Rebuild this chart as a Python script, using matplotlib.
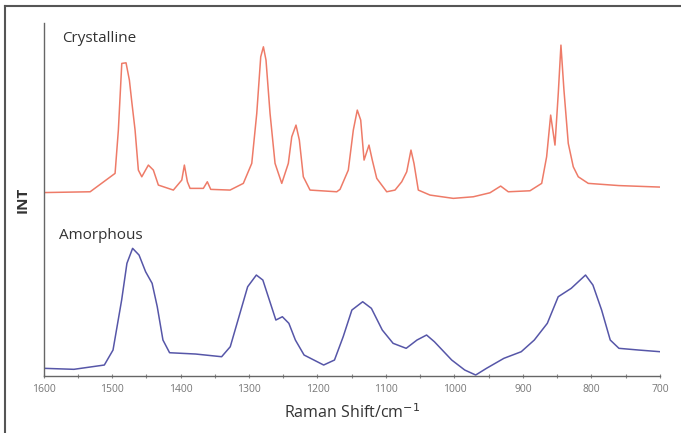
import numpy as np
import matplotlib.pyplot as plt
from matplotlib.lines import Line2D

# spectra (wavenumber cm-1, intensity in arbitrary units)
cryst_shift = [1600, 1532, 1495.6, 1490.8, 1485.8, 1479.6, 1474.7, 1471.2, 1466.4, 1461.6,
               1456.6, 1447, 1439.7, 1432.4, 1410.5, 1398.2, 1394.4, 1390, 1386.1, 1366.7,
               1360.9, 1355.9, 1327.7, 1308.3, 1296, 1288.7, 1282.9, 1279, 1275.2, 1269.3,
               1262, 1252.2, 1242.6, 1237.6, 1231.4, 1226.5, 1220.7, 1210.9, 1171.9, 1167.1,
               1155, 1147.7, 1141.9, 1136.9, 1132, 1124.8, 1120, 1113.5, 1098.9, 1086.8,
               1077, 1069.7, 1063.5, 1059.1, 1052.8, 1035.7, 1001.7, 972.5, 948.1, 932.5,
               921.4, 889.7, 872.6, 865.4, 859.5, 853.2, 848.4, 844.5, 840.1, 833.8,
               826.5, 819.2, 804.6, 760, 700]
cryst_int = [183.5, 184.3, 202.7, 246, 312.7, 313.3, 296, 274.3, 246, 206,
             199.3, 211, 206, 191, 186, 196, 211, 194.3, 187.7, 187.7,
             194.3, 186.7, 186, 192.7, 212.7, 262.7, 319.3, 329.3, 316, 262.7,
             212.7, 192.7, 212.7, 239.3, 251, 236, 199.3, 186, 184.3, 186.7,
             206, 246, 266, 256, 216, 231, 216, 197.7, 184.3, 186,
             194.3, 204.3, 226, 212.7, 186, 181, 177.7, 179.3, 183.3, 190,
             184.3, 185.3, 192.7, 219.3, 261, 231, 282.7, 331, 286, 232.7,
             209.3, 199.3, 192.7, 190.5, 189]

amor_shift = [1600, 1555.7, 1511.3, 1498.6, 1486, 1478.3, 1470, 1460.6, 1451, 1441.5,
              1434, 1425.7, 1416, 1378, 1340, 1327.4, 1314.7, 1302, 1289.3, 1279.8,
              1270.3, 1260.8, 1251.3, 1241.8, 1232.3, 1219.6, 1191, 1175.2, 1162.5, 1149.8,
              1134, 1121.3, 1105.4, 1089.6, 1070.5, 1054.7, 1040.7, 1029.3, 1004, 985,
              969, 953.2, 927.8, 902.5, 883.4, 864.4, 848.5, 829.5, 808.6, 797.8,
              785.1, 772.5, 759.8, 731.2, 699.5]
amor_int = [7.7, 6.7, 11, 26, 76, 112.7, 127.7, 121, 104.3, 92.7,
            69.3, 36, 23.3, 22, 19.3, 29.3, 59.3, 89.3, 101, 96,
            76, 56, 59.3, 52.7, 36, 21, 11, 16, 39.3, 66,
            74.3, 67.7, 46, 32.7, 27.7, 36, 41, 34.3, 16, 6,
            1, 7.7, 17.7, 24.3, 36, 52.7, 79.3, 87.7, 101, 91,
            66, 36, 27.7, 26, 24.3]

xticks = [1600, 1500, 1400, 1300, 1200, 1100, 1000, 900, 800, 700]

fig = plt.figure(figsize=(6.81, 4.33), dpi=100)
ax = fig.add_axes([0.064, 0.1316, 0.905, 0.815])

ax.plot(cryst_shift, cryst_int, color='#ee7b68', lw=1.1)
ax.plot(amor_shift, amor_int, color='#5656a8', lw=1.1)

for s in ['top', 'right']:
    ax.spines[s].set_visible(False)
for s in ['left', 'bottom']:
    ax.spines[s].set_color('#666666')
    ax.spines[s].set_linewidth(1.0)

ax.set_yticks([])
ax.set_xticks(xticks)
ax.set_xticks(np.arange(750, 1600, 100), minor=True)
ax.set_xlim(1600, 700)
ax.set_ylim(0, 353)
ax.tick_params(axis='x', which='both', direction='inout', length=3, width=0.8,
               color='#888888', labelsize=7.5, labelcolor='#777777', pad=4)
for lab in ax.get_xticklabels():
    lab.set_fontfamily('Open Sans')

ax.set_xlabel('Raman Shift/cm$^{-1}$', fontsize=11.5, color='#333333',
              family='Open Sans', labelpad=6)
ax.set_ylabel('INT', fontsize=11, color='#333333', family='Open Sans',
              fontweight='bold', labelpad=10)

ax.text(0.03, 0.957, 'Crystalline', transform=ax.transAxes, fontsize=11,
        color='#333333', family='Open Sans', va='center')
ax.text(0.025, 0.397, 'Amorphous', transform=ax.transAxes, fontsize=11,
        color='#333333', family='Open Sans', va='center')

# outer frame (top and left edges visible)
fig.add_artist(Line2D([0.0073, 1.0], [0.986, 0.986], transform=fig.transFigure,
                      color='#555555', lw=1.5))
fig.add_artist(Line2D([0.0073, 0.0073], [0.0, 0.986], transform=fig.transFigure,
                      color='#555555', lw=1.5))

fig.savefig('out.png', dpi=100)
